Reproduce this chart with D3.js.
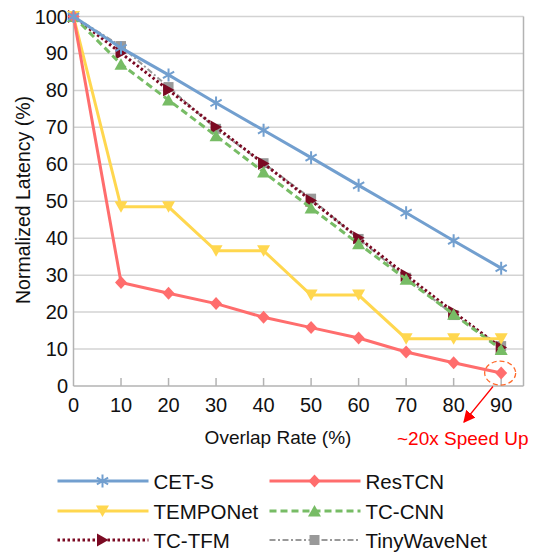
<!DOCTYPE html>
<html>
<head>
<meta charset="utf-8">
<script src="https://cdn.jsdelivr.net/npm/d3@7"></script>
<style>
  body { margin: 0; background: #fff; }
  svg { font-family: "Liberation Sans", Arial, sans-serif; }
</style>
</head>
<body>
<div id="chart"></div>
<script>
    const overlap = [0, 10, 20, 30, 40, 50, 60, 70, 80, 90];
    const cetS = [100, 91.5, 84.2, 76.6, 69.2, 61.8, 54.3, 46.9, 39.3, 31.9];
    const resTCN = [100, 28.0, 25.1, 22.3, 18.6, 15.8, 13.0, 9.2, 6.3, 3.5];
    const tempoNet = [100, 48.5, 48.5, 36.6, 36.6, 24.6, 24.6, 12.8, 12.8, 12.8];
    const tcCNN = [100, 87.1, 77.4, 67.7, 57.9, 48.2, 38.5, 28.9, 19.4, 9.9];
    const tcTFM = [100, 90.1, 80.1, 70.1, 60.2, 50.2, 40.1, 30.0, 20.0, 10.4];
    const tinyWaveNet = [100, 92.0, 80.9, 69.6, 60.3, 50.7, 39.8, 29.3, 19.2, 10.8];
    const yTicks = [0, 10, 20, 30, 40, 50, 60, 70, 80, 90, 100];

    const width = 544, height = 553;
    const x = d3.scaleLinear().domain([0, 94.7]).range([73.5, 523.5]);
    const y = d3.scaleLinear().domain([0, 100]).range([386, 16.5]);

    // marker shapes, centred on 0,0
    const markers = {
        star: "M0,-6.5V6.5M-5.6,-3.3L5.6,3.3M-5.6,3.3L5.6,-3.3",
        diamond: "M0,-6.5L6,0L0,6.5L-6,0Z",
        down: "M-6.5,-5.5L6.5,-5.5L0,6Z",
        up: "M0,-6L6.5,5.5L-6.5,5.5Z",
        right: "M-5.5,-6.5L6,0L-5.5,6.5Z",
        square: "M-5,-5H5V5H-5Z"
    };

    const series = [
        { name: "CET-S", values: cetS, color: "#729fcf", dash: null, width: 3, marker: "star" },
        { name: "ResTCN", values: resTCN, color: "#ff6d6d", dash: null, width: 3, marker: "diamond" },
        { name: "TEMPONet", values: tempoNet, color: "#ffd74f", dash: null, width: 3, marker: "down" },
        { name: "TC-CNN", values: tcCNN, color: "#77bc65", dash: "7,4", width: 3, marker: "up" },
        { name: "TC-TFM", values: tcTFM, color: "#7b0a23", dash: "2.5,2.5", width: 3, marker: "right" },
        { name: "TinyWaveNet", values: tinyWaveNet, color: "#999999", dash: "6,2.5,2,2.5", width: 2, marker: "square" }
    ];

    const svg = d3.select("#chart").append("svg")
        .attr("width", width)
        .attr("height", height);

    // grid
    svg.append("g")
        .selectAll("line")
        .data(yTicks.filter(d => d > 0))
        .join("line")
        .attr("x1", x(0)).attr("x2", x(94.7))
        .attr("y1", d => y(d)).attr("y2", d => y(d))
        .attr("stroke", "#d3d3d3")
        .attr("stroke-width", 1.5);

    // frame lines: left, bottom, right
    const frame = svg.append("g").attr("stroke", "#b3b3b3").attr("stroke-width", 1.5);
    frame.append("line").attr("x1", x(0)).attr("x2", x(0)).attr("y1", y(100)).attr("y2", y(0));
    frame.append("line").attr("x1", x(0)).attr("x2", x(94.7)).attr("y1", y(0)).attr("y2", y(0));
    frame.append("line").attr("x1", x(94.7)).attr("x2", x(94.7)).attr("y1", y(100)).attr("y2", y(0));

    // inner x ticks
    frame.selectAll(".xt")
        .data(overlap.filter(d => d > 0))
        .join("line")
        .attr("x1", d => x(d)).attr("x2", d => x(d))
        .attr("y1", y(0)).attr("y2", y(0) - 8);

    // y tick labels
    svg.append("g")
        .selectAll("text")
        .data(yTicks)
        .join("text")
        .attr("x", 68)
        .attr("y", d => y(d) + 7)
        .attr("text-anchor", "end")
        .attr("font-size", 20)
        .attr("fill", "#111")
        .text(d => d);

    // x tick labels
    svg.append("g")
        .selectAll("text")
        .data(overlap)
        .join("text")
        .attr("x", d => x(d))
        .attr("y", 412)
        .attr("text-anchor", "middle")
        .attr("font-size", 20)
        .attr("fill", "#111")
        .text(d => d);

    svg.append("text")
        .attr("x", 278)
        .attr("y", 444)
        .attr("text-anchor", "middle")
        .attr("font-size", 19)
        .attr("fill", "#111")
        .text("Overlap Rate (%)");

    svg.append("text")
        .attr("transform", "translate(30,200) rotate(-90)")
        .attr("text-anchor", "middle")
        .attr("font-size", 19.5)
        .attr("fill", "#111")
        .text("Normalized Latency (%)");

    const line = d3.line()
        .x((d, i) => x(overlap[i]))
        .y(d => y(d));

    // draw back to front so CET-S ends up on top
    const drawOrder = series.slice().reverse();
    drawOrder.forEach(s => {
        const g = svg.append("g");
        g.append("path")
            .attr("d", line(s.values))
            .attr("fill", "none")
            .attr("stroke", s.color)
            .attr("stroke-width", s.width)
            .attr("stroke-dasharray", s.dash);
        g.selectAll("path.m")
            .data(s.values)
            .join("path")
            .attr("class", "m")
            .attr("d", markers[s.marker])
            .attr("transform", (d, i) => "translate(" + x(overlap[i]) + "," + y(d) + ")")
            .attr("fill", s.marker == "star" ? "none" : s.color)
            .attr("stroke", s.marker == "star" ? s.color : "none")
            .attr("stroke-width", 2);
    });

    // annotation
    svg.append("ellipse")
        .attr("cx", x(90) - 1)
        .attr("cy", y(resTCN[9]))
        .attr("rx", 15.5)
        .attr("ry", 12)
        .attr("fill", "none")
        .attr("stroke", "#ff6a2b")
        .attr("stroke-width", 1.3)
        .attr("stroke-dasharray", "5,3");

    svg.append("defs").append("marker")
        .attr("id", "arrow")
        .attr("viewBox", "0 0 10 10")
        .attr("refX", 9).attr("refY", 5)
        .attr("markerWidth", 12).attr("markerHeight", 12)
        .attr("markerUnits", "userSpaceOnUse")
        .attr("orient", "auto")
        .append("path")
        .attr("d", "M0,0L10,5L0,10Z")
        .attr("fill", "#ff0000");

    svg.append("line")
        .attr("x1", 493).attr("y1", 386.5)
        .attr("x2", 464).attr("y2", 422)
        .attr("stroke", "#ff0000")
        .attr("stroke-width", 1.2)
        .attr("marker-end", "url(#arrow)");

    svg.append("text")
        .attr("x", 397)
        .attr("y", 445)
        .attr("font-size", 19)
        .attr("fill", "#ff0000")
        .text("~20x Speed Up");

    // legend
    const legendCols = [57.5, 269.5];
    const legendRows = [481, 511, 540];
    series.forEach((s, i) => {
        const lx = legendCols[i % 2], ly = legendRows[Math.floor(i / 2)];
        const g = svg.append("g").attr("transform", "translate(" + lx + "," + ly + ")");
        g.append("line")
            .attr("x1", 0).attr("x2", 91)
            .attr("stroke", s.color)
            .attr("stroke-width", s.width)
            .attr("stroke-dasharray", s.dash);
        g.append("path")
            .attr("d", markers[s.marker])
            .attr("transform", "translate(45,0)")
            .attr("fill", s.marker == "star" ? "none" : s.color)
            .attr("stroke", s.marker == "star" ? s.color : "none")
            .attr("stroke-width", 2);
        g.append("text")
            .attr("x", 96)
            .attr("y", 7.5)
            .attr("font-size", 20.5)
            .attr("fill", "#111")
            .text(s.name);
    });
</script>
</body>
</html>
